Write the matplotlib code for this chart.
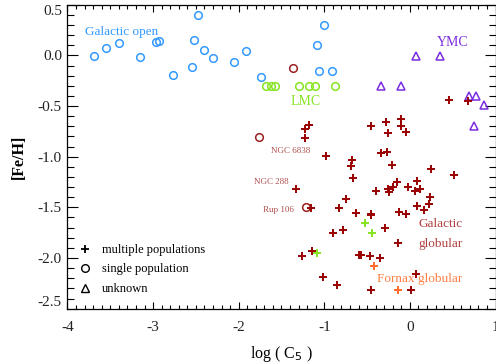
import matplotlib
matplotlib.use('Agg')
import matplotlib.pyplot as plt
from matplotlib.lines import Line2D
from matplotlib.ticker import MultipleLocator

plt.rcParams['font.family'] = ['Liberation Serif', 'DejaVu Serif']
plt.rcParams['axes.unicode_minus'] = False

# Galactic open clusters (single population, circles)
open_x = [-3.69, -3.55, -3.40, -3.15, -2.97, -2.93, -2.77, -2.55, -2.52, -2.47,
          -2.40, -2.30, -2.05, -1.92, -1.74, -1.00, -1.08, -1.06, -0.91]
open_y = [-0.01, 0.07, 0.12, -0.02, 0.13, 0.14, -0.19, -0.11, 0.15, 0.40,
          0.05, -0.03, -0.07, 0.04, -0.21, 0.30, 0.10, -0.15, -0.15]

# Galactic globulars with a single population
gc_single_x = [-1.36, -1.76, -1.21]
gc_single_y = [-0.12, -0.81, -1.50]

# LMC clusters, single population
lmc_x = [-1.68, -1.62, -1.58, -1.30, -1.18, -1.11, -0.87]
lmc_y = [-0.30, -0.30, -0.30, -0.30, -0.30, -0.30, -0.30]

# LMC globulars, multiple populations
lmc_mp_x = [-0.52, -0.44, -1.09]
lmc_mp_y = [-1.65, -1.75, -1.95]

# young massive clusters, unknown
ymc_x = [0.07, 0.35, -0.34, -0.10, 0.69, 0.77, 0.86, 0.75]
ymc_y = [-0.01, -0.01, -0.30, -0.30, -0.40, -0.40, -0.49, -0.70]

# Fornax globulars, multiple populations
fnx_x = [-0.42, -0.14]
fnx_y = [-2.08, -2.32]

# Galactic globulars, multiple populations
gc_mp_x = [-1.18, -1.23, -1.22, -0.45, -0.28, -0.26, -0.10, -0.10, -0.04, 0.46,
           0.68, -0.98, -0.68, -0.69, -0.34, -0.27, -0.21, 0.25, 0.51, -0.67,
           0.08, -0.15, -1.33, -0.40, -0.25, -0.24, -0.20, -0.02, 0.06, 0.12,
           0.23, 0.22, 0.08, 0.16, -0.75, -0.83, -1.15, -0.63, -0.45, -0.45,
           -0.13, -0.04, -0.29, -0.78, -0.90, -0.14, -1.26, -1.14, -0.60, -0.57,
           -0.47, -0.35, -1.01, -0.85, -0.45, 0.01, 0.07]
gc_mp_y = [-0.69, -0.73, -0.82, -0.70, -0.66, -0.77, -0.63, -0.70, -0.76, -0.44,
           -0.45, -0.99, -1.03, -1.09, -0.96, -0.95, -1.08, -1.12, -1.18, -1.21,
           -1.24, -1.25, -1.32, -1.34, -1.32, -1.35, -1.30, -1.30, -1.34, -1.32,
           -1.40, -1.47, -1.49, -1.53, -1.42, -1.51, -1.51, -1.56, -1.57, -1.58,
           -1.55, -1.57, -1.70, -1.72, -1.75, -1.85, -1.98, -1.93, -1.97, -1.97,
           -1.98, -2.00, -2.19, -2.27, -2.32, -2.32, -2.16]

blue = '#3399ff'
green = '#86e322'
dred = '#990000'
purple = '#7b2be0'
orange = '#ff6a2a'

fig = plt.figure(figsize=(4.96, 3.64), dpi=100)
ax = fig.add_axes([0.136, 0.152, 0.863, 0.835])

circ = dict(marker='o', ls='none', ms=5.5, mfc='none', mew=1.1)
cross = dict(marker='+', ls='none', ms=6, mew=1.4)

ax.plot(open_x, open_y, mec=blue, **circ)
ax.plot(lmc_x, lmc_y, mec=green, **circ)
ax.plot(gc_single_x, gc_single_y, mec='#9b2020', **circ)
ax.plot(ymc_x, ymc_y, marker='^', ls='none', ms=6, mfc='none', mec=purple, mew=1.1)
ax.plot(gc_mp_x, gc_mp_y, color=dred, **cross)
ax.plot(lmc_mp_x, lmc_mp_y, color=green, **cross)
ax.plot(fnx_x, fnx_y, color=orange, **cross)

ax.text(-3.80, 0.23, 'Galactic open', color=blue, fontsize=9.5, va='center')
ax.text(-1.40, -0.46, 'LMC', color=green, fontsize=10, va='center')
ax.text(0.31, 0.13, 'YMC', color=purple, fontsize=10, va='center')
ax.text(-1.62, -0.94, 'NGC 6838', color='#b05050', fontsize=6.5, va='center')
ax.text(-1.82, -1.25, 'NGC 288', color='#b05050', fontsize=6.5, va='center')
ax.text(-1.72, -1.53, 'Rup 106', color='#b05050', fontsize=6.5, va='center')
ax.text(0.10, -1.66, 'Galactic', color='#b04040', fontsize=9.5, va='center')
ax.text(0.10, -1.86, 'globular', color='#b04040', fontsize=9.5, va='center')
ax.text(-0.39, -2.21, 'Fornax globular', color='#ff7f45', fontsize=9.5, va='center')

handles = [Line2D([], [], marker='+', ls='none', color='k', ms=6, mew=1.3),
           Line2D([], [], marker='o', ls='none', mfc='none', mec='k', ms=5.5, mew=1.0),
           Line2D([], [], marker='^', ls='none', mfc='none', mec='k', ms=6, mew=1.0)]
ax.legend(handles, ['multiple populations', 'single population', 'unknown'],
          loc='lower left', bbox_to_anchor=(0.026, 0.045), frameon=False,
          fontsize=9, handlelength=1.0, handletextpad=0.84, labelspacing=0.6,
          borderpad=0, borderaxespad=0)

ax.set_xlim(-4, 1)
ax.set_ylim(-2.5, 0.5)
ax.xaxis.set_major_locator(MultipleLocator(1))
ax.xaxis.set_minor_locator(MultipleLocator(0.1))
ax.yaxis.set_major_locator(MultipleLocator(0.5))
ax.yaxis.set_minor_locator(MultipleLocator(0.1))
ax.set_yticks([-2.5, -2.0, -1.5, -1.0, -0.5, 0.0, 0.5])
ax.set_yticklabels(['-2.5', '-2.0', '-1.5', '-1.0', '-0.5', '0.0', '0.5'])
ax.set_xticks([-4, -3, -2, -1, 0, 1])
ax.set_xticklabels(['-4', '-3', '-2', '-1', '0', '1'])
ylabs = ax.get_yticklabels()
ylabs[0].set_va('bottom')
ylabs[-1].set_va('top')

ax.tick_params(which='both', direction='in', top=True, right=True,
               labelsize=11, labelcolor='#222222', width=0.8)
ax.tick_params(axis='x', which='major', length=5, pad=9)
ax.tick_params(axis='x', which='minor', length=2.7)
ax.tick_params(axis='y', which='major', length=8, pad=4)
ax.tick_params(axis='y', which='minor', length=5)
for s in ax.spines.values():
    s.set_linewidth(0.9)

ax.set_xlabel('log ( C$_5$ )', fontsize=11.5, labelpad=7)
ax.set_ylabel('[Fe/H]', fontsize=11.5, fontweight='bold', labelpad=8)

fig.savefig('out.png', dpi=100)
